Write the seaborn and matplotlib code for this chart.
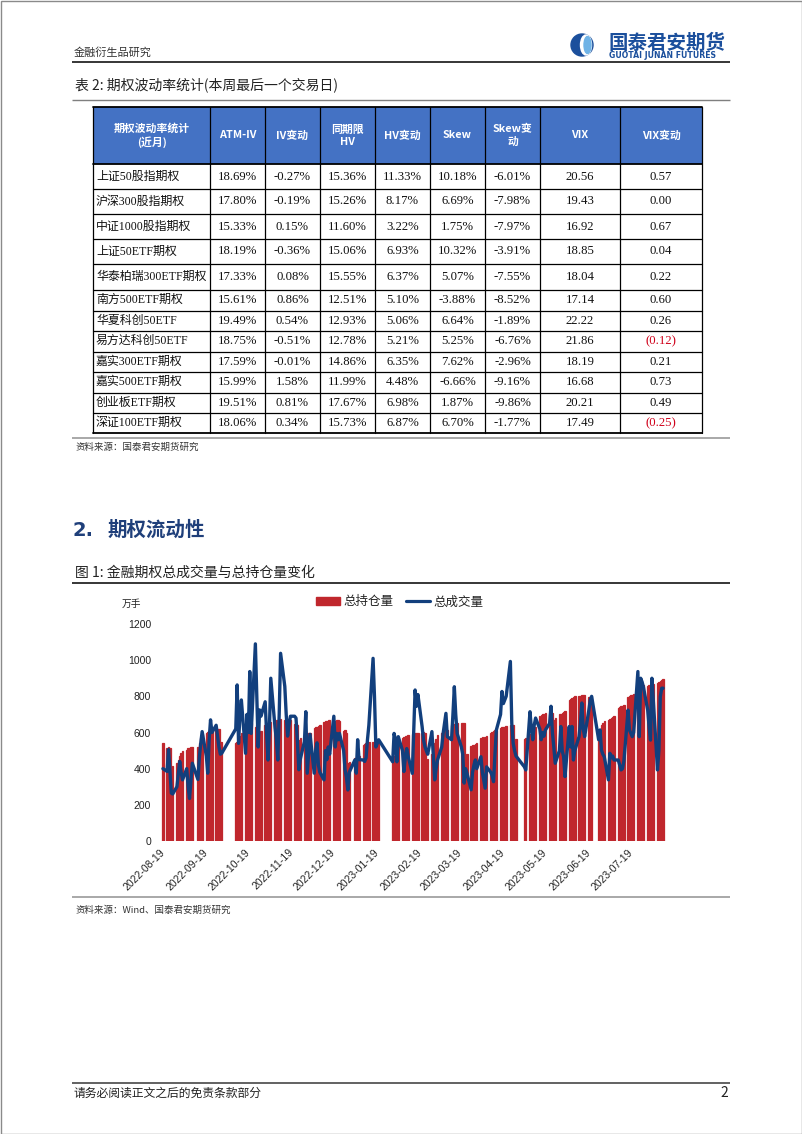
import numpy as np
import pandas as pd
import matplotlib
matplotlib.use("Agg")
import matplotlib.pyplot as plt
import matplotlib.dates as mdates
from matplotlib.patches import Rectangle, Circle, Ellipse, Patch
from matplotlib.lines import Line2D
import seaborn as sns

sns.set_theme(style="white")
plt.rcParams['font.family'] = ['Noto Sans CJK SC', 'DejaVu Sans']

# ---------------- table data ----------------
products = ['上证50股指期权', '沪深300股指期权', '中证1000股指期权', '上证50ETF期权',
            '华泰柏瑞300ETF期权', '南方500ETF期权', '华夏科创50ETF', '易方达科创50ETF',
            '嘉实300ETF期权', '嘉实500ETF期权', '创业板ETF期权', '深证100ETF期权']
header = ['期权波动率统计\n(近月)', 'ATM-IV', 'IV变动', '同期限\nHV', 'HV变动',
          'Skew', 'Skew变\n动', 'VIX', 'VIX变动']
atm_iv = [18.69, 17.80, 15.33, 18.19, 17.33, 15.61, 19.49, 18.75, 17.59, 15.99, 19.51, 18.06]
iv_chg = [-0.27, -0.19, 0.15, -0.36, 0.08, 0.86, 0.54, -0.51, -0.01, 1.58, 0.81, 0.34]
hv = [15.36, 15.26, 11.60, 15.06, 15.55, 12.51, 12.93, 12.78, 14.86, 11.99, 17.67, 15.73]
hv_chg = [11.33, 8.17, 3.22, 6.93, 6.37, 5.10, 5.06, 5.21, 6.35, 4.48, 6.98, 6.87]
skew = [10.18, 6.69, 1.75, 10.32, 5.07, -3.88, 6.64, 5.25, 7.62, -6.66, 1.87, 6.70]
skew_chg = [-6.01, -7.98, -7.97, -3.91, -7.55, -8.52, -1.89, -6.76, -2.96, -9.16, -9.86, -1.77]
vix = [20.56, 19.43, 16.92, 18.85, 18.04, 17.14, 22.22, 21.86, 18.19, 16.68, 20.21, 17.49]
vix_chg = [0.57, 0.00, 0.67, 0.04, 0.22, 0.60, 0.26, -0.12, 0.21, 0.73, 0.49, -0.25]

# ---------------- chart data ----------------
holidays = ['2022-09-12', '2022-10-03', '2022-10-04', '2022-10-05', '2022-10-06', '2022-10-07',
            '2023-01-02', '2023-01-23', '2023-01-24', '2023-01-25', '2023-01-26', '2023-01-27',
            '2023-04-05', '2023-05-01', '2023-05-02', '2023-05-03', '2023-06-22', '2023-06-23']
start_date, end_date = '2022-08-19', '2023-08-11'

# 总持仓量 (万手), one value per trading day, grouped by week
open_interest = [
    540,
    515, 518, 515, 410, 412,
    430, 450, 470, 485, 495,
    505, 512, 515, 518, 520,
    520, 540, 570, 590,
    600, 605, 610, 615, 617,
    615, 620, 620, 545, 545,
    540, 550, 560, 580, 600,
    640, 645, 650, 650, 650,
    632, 640, 645, 600, 610,
    640, 650, 655, 660, 660,
    665, 668, 670, 670, 672,
    668, 670, 670, 672, 670,
    645, 645, 640, 560, 570,
    585, 590, 595, 598, 600,
    625, 630, 632, 638, 641,
    660, 662, 665, 668, 670,
    665, 665, 668, 670, 665,
    610, 613, 600, 430, 435,
    460, 465, 468, 470,
    530, 535, 540, 542, 545,
    545, 548, 550, 555, 560,
    440, 470, 500, 530, 560,
    570, 575, 578, 582, 585,
    590, 592, 595, 596, 598,
    600, 602, 600, 450, 455,
    480, 510, 540, 565, 586,
    600, 605, 608, 612, 615,
    640, 645, 648, 650, 650,
    650, 652, 650, 475, 480,
    525, 530, 533, 536, 540,
    570, 575, 577, 580,
    600, 605, 608, 612, 614,
    625, 628, 630, 632, 635,
    640, 642, 641, 560, 565,
    565, 567,
    590, 600, 610, 620, 630,
    690, 695, 700, 705, 706,
    700, 705, 706, 670, 680,
    700, 705, 710, 715, 720,
    780, 785, 790, 795, 800,
    800, 803, 805, 807, 808,
    795, 792, 790,
    600, 620, 640, 655, 665,
    670, 675, 680, 685, 690,
    735, 740, 745, 748, 750,
    795, 800, 805, 810, 815,
    855, 860, 865, 860, 862,
    855, 860, 862, 865, 868,
    875, 880, 885, 890, 895,
]

# 总成交量 (万手)
volume = [
    400,
    385, 505, 390, 265, 260,
    300, 370, 440, 380, 338,
    400, 300, 235, 330, 430,
    340, 460, 540, 605,
    470, 375, 560, 670, 600,
    640, 580, 520, 480, 485,
    620, 863, 540, 700, 780,
    485, 700, 600, 937, 595,
    1090, 800, 520, 725, 690,
    770, 600, 448, 620, 900,
    630, 560, 448, 700, 1038,
    855, 700, 580, 640, 690,
    690, 680, 550, 394, 450,
    550, 715, 375, 480, 590,
    375, 500, 543, 420, 380,
    338, 500, 450, 520, 480,
    690, 520, 595, 560, 595,
    500, 394, 350, 282, 380,
    448, 375, 560, 450,
    448, 440, 460, 560, 640,
    1010, 800, 520, 540, 560,
    438, 595, 560, 438, 577,
    500, 384, 460, 511, 470,
    374, 600, 835, 745, 810,
    633, 560, 522, 500, 480,
    605, 470, 338, 400, 448,
    520, 595, 650, 706, 577,
    560, 700, 853, 700, 595,
    520, 480, 320, 400, 375,
    283, 380, 420, 448, 400,
    466, 380, 292, 410,
    380, 360, 328, 480, 614,
    700, 827, 760, 780, 800,
    993, 650, 540, 500, 470,
    410, 393,
    715, 620, 560, 640, 680,
    620, 560, 600, 580, 614,
    650, 745, 600, 520, 430,
    500, 633, 500, 466, 356,
    633, 520, 633, 448, 500,
    577, 650, 763, 620, 577,
    724, 780, 800,
    560, 614, 503, 480, 466,
    338, 485, 460, 470, 448,
    448, 420, 393, 400, 440,
    724, 614, 595, 577, 600,
    937, 577, 900, 880, 850,
    724, 633, 558, 900, 780,
    393, 500, 798, 845, 845,
]

tick_labels = ['2022-08-19', '2022-09-19', '2022-10-19', '2022-11-19', '2022-12-19',
               '2023-01-19', '2023-02-19', '2023-03-19', '2023-04-19', '2023-05-19',
               '2023-06-19', '2023-07-19']
y_ticks = [0, 200, 400, 600, 800, 1000, 1200]

# ---------------- page ----------------
W, H = 802, 1134
fig = plt.figure(figsize=(W / 100, H / 100), dpi=100)
page = fig.add_axes([0, 0, 1, 1])
page.set_xlim(0, W)
page.set_ylim(H, 0)
page.axis('off')

DARK = '#262626'
NAVY_T = '#1f3f7a'
LOGO = '#1b4f9c'

def hline(y, color=DARK, lw=1.2, x0=72, x1=730):
    page.plot([x0, x1], [y, y], color=color, lw=lw, solid_capstyle='butt')

# page border
page.add_patch(Rectangle((0.5, 0.5), W - 1, H - 1, fill=False, ec='#8a8a8a', lw=1))

# header
page.text(74, 52, '金融衍生品研究', fontsize=8, color='#333333', va='center', ha='left')
page.add_patch(Circle((582, 45), 11, color=LOGO))
page.add_patch(Ellipse((586, 45), 11, 20, color='white'))
page.add_patch(Ellipse((587.5, 45), 7, 17, color='#6fb3e6'))
page.text(608, 43, '国泰君安期货', fontsize=14, fontweight='bold', color=LOGO,
          va='center', ha='left')
page.text(609, 55, 'GUOTAI JUNAN FUTURES', fontsize=5.6, fontweight='bold', color=LOGO,
          va='center', ha='left', family=['DejaVu Sans'])
hline(62, DARK, 1.3)

# table title
page.text(75, 85, '表 2: 期权波动率统计(本周最后一个交易日)', fontsize=10, color='#222222',
          va='center', ha='left')
hline(100, '#7f7f7f', 1.0)

# ---------------- table ----------------
col_edges = [93, 210, 265, 320, 375, 430, 485, 540, 620, 702]
row_edges = [107, 164, 189, 214, 239, 264, 290, 310.5, 331, 351.5, 372, 392.5, 413, 433]
HEAD_BLUE = '#4472c4'
page.add_patch(Rectangle((col_edges[0], row_edges[0]), col_edges[-1] - col_edges[0],
                         row_edges[1] - row_edges[0], color=HEAD_BLUE, lw=0))
for j, h in enumerate(header):
    cx = (col_edges[j] + col_edges[j + 1]) / 2
    cy = (row_edges[0] + row_edges[1]) / 2
    page.text(cx, cy, h, color='white', fontsize=7.8, fontweight='bold', ha='center',
              va='center', linespacing=1.25)

columns = [atm_iv, iv_chg, hv, hv_chg, skew, skew_chg]
serif = ['Liberation Serif', 'Noto Sans CJK SC']
for i, name in enumerate(products):
    cy = (row_edges[i + 1] + row_edges[i + 2]) / 2
    page.text(col_edges[0] + 3, cy, name, fontsize=8.6, family=serif, ha='left', va='center',
              color='#111111')
    for j, col in enumerate(columns):
        cx = (col_edges[j + 1] + col_edges[j + 2]) / 2
        page.text(cx, cy, f'{col[i]:.2f}%', fontsize=9.2, family=serif, ha='center',
                  va='center', color='#111111')
    cx = (col_edges[7] + col_edges[8]) / 2
    page.text(cx, cy, f'{vix[i]:.2f}', fontsize=9.2, family=serif, ha='center', va='center',
              color='#111111')
    cx = (col_edges[8] + col_edges[9]) / 2
    v = vix_chg[i]
    if v < 0:
        page.text(cx, cy, f'({abs(v):.2f})', fontsize=9.2, family=serif, ha='center',
                  va='center', color='#d0021b')
    else:
        page.text(cx, cy, f'{v:.2f}', fontsize=9.2, family=serif, ha='center', va='center',
                  color='#111111')

for x in col_edges:
    page.plot([x, x], [row_edges[0], row_edges[-1]], color='black', lw=0.9)
for k, y in enumerate(row_edges):
    page.plot([col_edges[0], col_edges[-1]], [y, y], color='black',
              lw=1.3 if k in (0, 1, len(row_edges) - 1) else 0.9)

hline(437.5, '#9a9a9a', 1.2)
page.text(75, 447, '资料来源：国泰君安期货研究', fontsize=6.8, color='#333333', va='center')

# section title
page.text(73, 530, '2.', fontsize=14, fontweight='bold', color=NAVY_T, va='center',
          family=['DejaVu Sans'])
page.text(108, 530, '期权流动性', fontsize=14, fontweight='bold', color=NAVY_T, va='center')

page.text(75, 573, '图 1: 金融期权总成交量与总持仓量变化', fontsize=10, color='#222222',
          va='center')
hline(583, DARK, 1.3)

# ---------------- chart ----------------
dates = pd.bdate_range(start_date, end_date)
dates = dates[~dates.isin(pd.to_datetime(holidays))]
n = min(len(dates), len(open_interest), len(volume))
df = pd.DataFrame({'x': mdates.date2num(dates[:n]),
                   'oi': open_interest[:n],
                   'vol': volume[:n]})

BAR_RED = '#c0272d'
LINE_NAVY = '#123f7d'

ax_left, ax_right, ax_top, ax_bot = 158, 668, 624, 841
ax = fig.add_axes([ax_left / W, 1 - ax_bot / H, (ax_right - ax_left) / W, (ax_bot - ax_top) / H])
ax.patch.set_alpha(0)

sns.barplot(data=df, x='x', y='oi', native_scale=True, width=1.0, color=BAR_RED,
            saturation=1, errorbar=None, edgecolor=BAR_RED, linewidth=0.9, ax=ax)
sns.lineplot(data=df, x='x', y='vol', color=LINE_NAVY, lw=2.4, errorbar=None, ax=ax)

x0 = mdates.date2num(pd.Timestamp(start_date)) - 3.5
x1 = mdates.date2num(pd.Timestamp(end_date)) + 3.5
ax.set_xlim(x0, x1)
ax.set_ylim(0, 1200)
ax.set_yticks(y_ticks)
ax.set_yticklabels([str(v) for v in y_ticks], family=['Liberation Sans'], fontsize=7.5,
                   color='#222222')
tick_pos = mdates.date2num(pd.to_datetime(tick_labels))
ax.set_xticks(tick_pos)
ax.set_xticklabels(tick_labels, rotation=45, ha='right', va='center', rotation_mode='anchor',
                   family=['Liberation Sans'], fontsize=7.5, color='#222222')
ax.tick_params(axis='both', length=0)
ax.tick_params(axis='x', pad=7)
ax.tick_params(axis='y', pad=5)
ax.set_xlabel('')
ax.set_ylabel('')
for s in ax.spines.values():
    s.set_visible(False)
ax.grid(False)

page.text(122, 604, '万手', fontsize=7, color='#222222', va='center')
handles = [Patch(facecolor=BAR_RED, edgecolor=BAR_RED), Line2D([0], [0], color=LINE_NAVY, lw=2.3)]
fig.legend(handles, ['总持仓量', '总成交量'], loc='center', bbox_to_anchor=(400 / W, 1 - 602 / H),
           ncol=2, frameon=False, fontsize=9, handlelength=1.9, handleheight=0.55,
           columnspacing=1.0, handletextpad=0.3, labelcolor='#222222')

hline(897, '#9a9a9a', 1.2)
page.text(75, 910, '资料来源：Wind、国泰君安期货研究', fontsize=6.8, color='#333333', va='center')

# footer
hline(1083, '#555555', 1.3)
page.text(73, 1093, '请务必阅读正文之后的免责条款部分', fontsize=8.5, color='#222222', va='center')
page.text(728, 1093, '2', fontsize=10, color='#222222', va='center', ha='right')

fig.savefig('out.png', dpi=100)
